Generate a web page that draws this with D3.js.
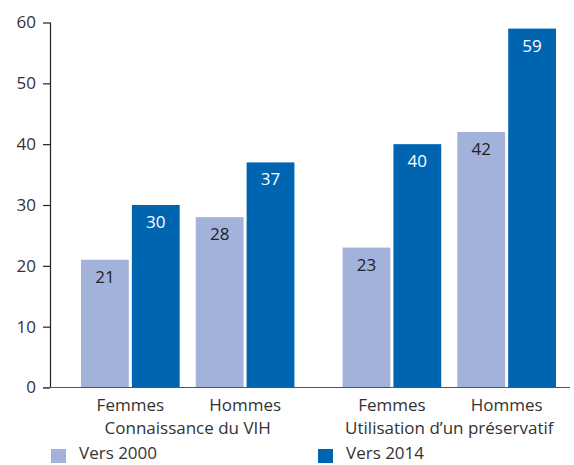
<!DOCTYPE html>
<html>
<head>
<meta charset="utf-8">
<script src="https://cdn.jsdelivr.net/npm/d3@7"></script>
<style>
  html, body { margin: 0; padding: 0; background: #fff; }
  svg { display: block; font-family: "Open Sans", "Noto Sans", sans-serif; }
</style>
</head>
<body>
<svg id="chart" width="574" height="465"></svg>
<script>
// Indicator groups, gender subgroups and survey periods
const groups = ["Connaissance du VIH", "Utilisation d\u2019un préservatif"];
const genders = ["Femmes", "Hommes"];
const series = ["Vers 2000", "Vers 2014"];

// Percentages per group, gender order: Femmes, Hommes
const vers2000 = [[21, 28], [23, 42]];
const vers2014 = [[30, 37], [40, 59]];

const yTicks = [0, 10, 20, 30, 40, 50, 60];
const colors = ["#a2b2db", "#0065b1"];
const labelColors = ["#222", "#fff"];

const svg = d3.select("#chart");
const textColor = "#333";

const y = d3.scaleLinear().domain([0, 60]).range([387.5, 22.5]);

const xGroup = d3.scaleBand().domain(groups).range([81, 556]).paddingInner(0.184).paddingOuter(0);
const xGender = d3.scaleBand().domain(genders).range([0, xGroup.bandwidth()]).paddingInner(0.14).paddingOuter(0);
const xSeries = d3.scaleBand().domain(series).range([0, xGender.bandwidth()]).paddingInner(0.06).paddingOuter(0);

// Flatten data into bar records
const bars = [];
groups.forEach((g, gi) => {
  genders.forEach((s, si) => {
    [vers2000, vers2014].forEach((arr, ki) => {
      bars.push({ group: g, gender: s, series: series[ki], k: ki, value: arr[gi][si] });
    });
  });
});

const barX = d => xGroup(d.group) + xGender(d.gender) + xSeries(d.series);

svg.append("g").selectAll("rect").data(bars).join("rect")
  .attr("x", barX)
  .attr("y", d => y(d.value))
  .attr("width", xSeries.bandwidth())
  .attr("height", d => y(0) - y(d.value))
  .attr("fill", d => colors[d.k]);

svg.append("g").selectAll("text").data(bars).join("text")
  .attr("x", d => barX(d) + xSeries.bandwidth() / 2)
  .attr("y", d => y(d.value) + 23)
  .attr("text-anchor", "middle")
  .attr("font-size", 17)
  .attr("fill", d => labelColors[d.k])
  .text(d => d.value);

// Y axis
const yAxis = d3.axisLeft(y).tickValues(yTicks).tickSize(7).tickPadding(7).tickFormat(d3.format("d"));
const yg = svg.append("g").attr("transform", "translate(50,0)").call(yAxis);
yg.select(".domain").attr("stroke", "#222").attr("stroke-width", 1.2).attr("d", `M0.5,${y(60)}V${y(0)}`);
yg.selectAll(".tick line").attr("stroke", "#222").attr("stroke-width", 1.2);
yg.selectAll(".tick text").attr("font-size", 17).attr("fill", textColor)
  .attr("font-family", "\"Open Sans\", \"Noto Sans\", sans-serif");

// Baseline
svg.append("line")
  .attr("x1", 43).attr("x2", 570)
  .attr("y1", y(0)).attr("y2", y(0))
  .attr("stroke", "#555").attr("stroke-width", 1.2);

// Gender labels
const genderLabels = [];
groups.forEach(g => genders.forEach(s => genderLabels.push({ g, s })));
svg.append("g").selectAll("text").data(genderLabels).join("text")
  .attr("x", d => xGroup(d.g) + xGender(d.s) + xGender.bandwidth() / 2)
  .attr("y", 411)
  .attr("text-anchor", "middle")
  .attr("font-size", 17)
  .attr("fill", textColor)
  .text(d => d.s);

// Group labels
svg.append("g").selectAll("text").data(groups).join("text")
  .attr("x", g => xGroup(g) + xGroup.bandwidth() / 2)
  .attr("y", 434)
  .attr("text-anchor", "middle")
  .attr("font-size", 17)
  .attr("fill", textColor)
  .text(g => g);

// Legend
const legendX = [51, 318];
const lg = svg.append("g").selectAll("g").data(series).join("g")
  .attr("transform", (d, i) => `translate(${legendX[i]},448)`);
lg.append("rect").attr("y", 1).attr("width", 15).attr("height", 14).attr("fill", (d, i) => colors[i]);
lg.append("text").attr("x", 28).attr("y", 11)
  .attr("font-size", 17).attr("fill", textColor).text(d => d);
</script>
</body>
</html>
